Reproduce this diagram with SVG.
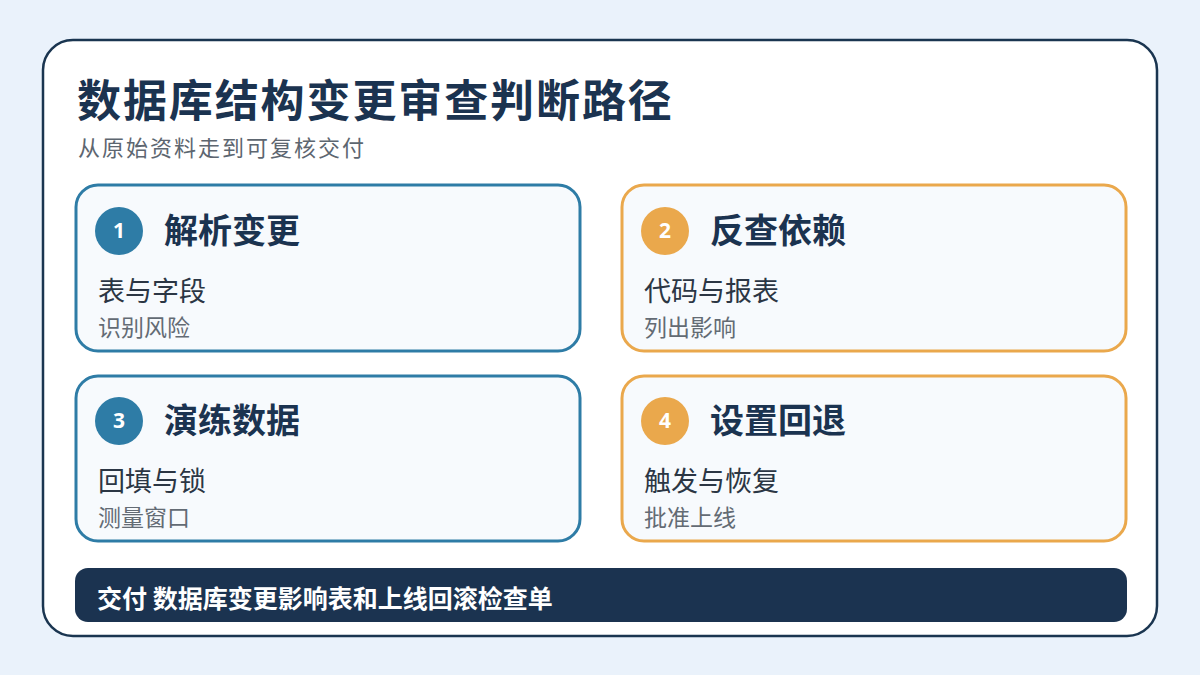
<svg xmlns="http://www.w3.org/2000/svg" width="1200" height="675" viewBox="0 0 1200 675">
<defs>
<style>
.cjk{font-family:"Noto Sans CJK SC","Noto Sans",sans-serif;}
.title{font-size:44px;font-weight:700;fill:#1b3350;letter-spacing:1.9px;}
.sub{font-size:22px;fill:#5d6670;letter-spacing:2px;}
.card{fill:#f7fafd;stroke-width:3;}
.blue{stroke:#2e7ca6;}
.orange{stroke:#eaa84c;}
.head{font-size:34px;font-weight:700;fill:#1b3350;}
.line1{font-size:27px;fill:#2b3644;}
.line2{font-size:23px;fill:#636b74;}
.num{font-family:"Open Sans","Liberation Sans",sans-serif;font-size:21px;font-weight:700;fill:#ffffff;}
</style>
</defs>
<rect x="0" y="0" width="1200" height="675" fill="#eaf2fb"/>
<rect x="43" y="40" width="1114" height="596" rx="30" fill="#ffffff" stroke="#1a3550" stroke-width="2.5"/>
<text class="cjk title" x="77" y="117">数据库结构变更审查判断路径</text>
<text class="cjk sub" x="78" y="156">从原始资料走到可复核交付</text>

<g id="node1">
<rect class="card blue" x="76" y="185" width="504" height="166" rx="22"/>
<circle cx="119" cy="231" r="24" fill="#2e7ca6"/>
<text class="num" x="119" y="238" text-anchor="middle">1</text>
<text class="cjk head" x="164" y="243">解析变更</text>
<text class="cjk line1" x="98" y="301">表与字段</text>
<text class="cjk line2" x="98" y="336">识别风险</text>
</g>
<g id="node2">
<rect class="card orange" x="622" y="185" width="504" height="166" rx="22"/>
<circle cx="665" cy="231" r="24" fill="#eaa84c"/>
<text class="num" x="665" y="238" text-anchor="middle">2</text>
<text class="cjk head" x="710" y="243">反查依赖</text>
<text class="cjk line1" x="644" y="301">代码与报表</text>
<text class="cjk line2" x="644" y="336">列出影响</text>
</g>
<g id="node3">
<rect class="card blue" x="76" y="376" width="504" height="165" rx="22"/>
<circle cx="119" cy="421" r="24" fill="#2e7ca6"/>
<text class="num" x="119" y="428" text-anchor="middle">3</text>
<text class="cjk head" x="164" y="433">演练数据</text>
<text class="cjk line1" x="98" y="491">回填与锁</text>
<text class="cjk line2" x="98" y="526">测量窗口</text>
</g>
<g id="node4">
<rect class="card orange" x="622" y="376" width="504" height="165" rx="22"/>
<circle cx="665" cy="421" r="24" fill="#eaa84c"/>
<text class="num" x="665" y="428" text-anchor="middle">4</text>
<text class="cjk head" x="710" y="433">设置回退</text>
<text class="cjk line1" x="644" y="491">触发与恢复</text>
<text class="cjk line2" x="644" y="526">批准上线</text>
</g>
<g id="connectors"></g>
<g id="deliver">
<rect x="75" y="568" width="1052" height="54" rx="13" fill="#1b3350"/>
<text class="cjk" x="97" y="608" font-size="25" font-weight="700" fill="#ffffff">交付 数据库变更影响表和上线回滚检查单</text>
</g>
</svg>
